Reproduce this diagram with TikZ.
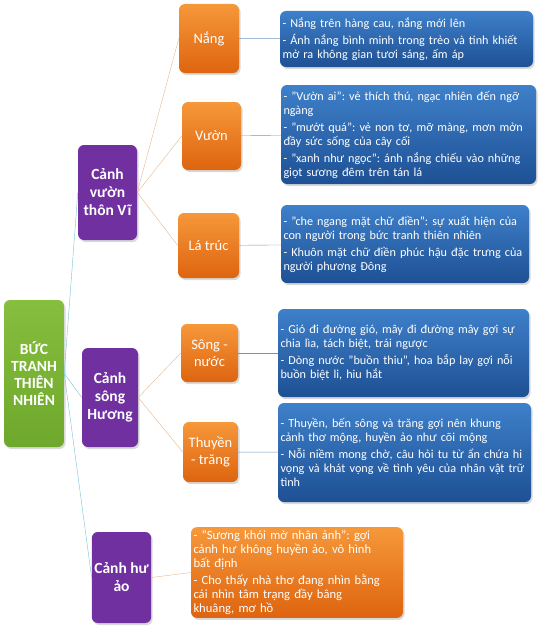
\documentclass[tikz,border=0pt]{standalone}
\usepackage{fontspec}
\setmainfont{Carlito}
\usetikzlibrary{shadows}
\frenchspacing

\definecolor{rootgreen}{RGB}{134,190,62}
\definecolor{rootgreendk}{RGB}{110,168,44}
\definecolor{sceneviolet}{RGB}{112,48,160}
\definecolor{partorange}{RGB}{246,152,58}
\definecolor{partorangedk}{RGB}{222,100,16}
\definecolor{noteblue}{RGB}{62,128,202}
\definecolor{noteblueDk}{RGB}{30,80,148}
\definecolor{linkcyan}{RGB}{120,192,216}
\definecolor{linktan}{RGB}{228,184,144}
\definecolor{linksteel}{RGB}{112,150,192}

\tikzset{
  box/.style={rounded corners=6pt, text=white, inner xsep=2.5pt,
    drop shadow={opacity=0.3, shadow xshift=1.5pt, shadow yshift=-2pt}},
  rootbox/.style={box, top color=rootgreen, bottom color=rootgreendk,
    font=\bfseries\fontsize{15.5}{17}\selectfont, align=center},
  scenebox/.style={box, fill=sceneviolet,
    font=\bfseries\fontsize{15.5}{18}\selectfont, align=center},
  partbox/.style={box, top color=partorange, bottom color=partorangedk,
    font=\fontsize{14.5}{17}\selectfont, align=center},
  notebox/.style={box, top color=noteblue, bottom color=noteblueDk,
    font=\fontsize{12.2}{14}\selectfont, align=left},
  warmnote/.style={box, top color=partorange, bottom color=partorangedk,
    font=\fontsize{12.6}{14}\selectfont, align=left}
}

\begin{document}
\begin{tikzpicture}[x=1pt,y=-1pt]
  \useasboundingbox (0,0) rectangle (541,634);

  % root and scenes
  \node[rootbox, minimum width=60pt, minimum height=147pt] (root) at (34,373.5) {BỨC\\TRANH\\THIÊN\\NHIÊN};
  \node[scenebox, minimum width=59pt, minimum height=95pt] (vi) at (107.5,192.5) {Cảnh\\vườn\\thôn Vĩ};
  \node[scenebox, minimum width=56pt, minimum height=99pt] (huong) at (110,397.5) {Cảnh\\sông\\Hương};
  \node[scenebox, minimum width=55pt, minimum height=91pt] (huao) at (121.5,577.5) {Cảnh hư\\ảo};

  % parts
  \node[partbox, minimum width=60pt, minimum height=69pt] (nang) at (209,38.5) {Nắng};
  \node[partbox, minimum width=59pt, minimum height=68pt] (vuon) at (211.5,136) {Vườn};
  \node[partbox, minimum width=61pt, minimum height=65pt] (truc) at (208.5,245.5) {Lá trúc};
  \node[partbox, minimum width=57pt, minimum height=58pt] (song) at (209.5,353) {Sông -\\nước};
  \node[partbox, minimum width=55pt, minimum height=60pt] (thuyen) at (210.5,452) {Thuyền\\- trăng};

  % notes
  \node[notebox, text width=248pt, minimum height=56pt] (nangtxt) at (406.5,39) {- Nắng trên hàng cau, nắng mới lên\\[3pt]- Ánh nắng bình minh trong trẻo và tinh khiết\\mở ra không gian tươi sáng, ấm áp};
  \node[notebox, text width=250pt, minimum height=99pt] (vuontxt) at (408.5,134.5) {- "Vườn ai": vẻ thích thú, ngạc nhiên đến ngỡ\\ngàng\\[3pt]- "mướt quá": vẻ non tơ, mỡ màng, mơn mởn\\đầy sức sống của cây cối\\[3pt]- "xanh như ngọc": ánh nắng chiếu vào những\\giọt sương đêm trên tán lá};
  \node[notebox, text width=243pt, minimum height=78pt] (tructxt) at (405,244) {- "che ngang mặt chữ điền": sự xuất hiện của\\con người trong bức tranh thiên nhiên\\[3pt]- Khuôn mặt chữ điền phúc hậu đặc trưng của\\người phương Đông};
  \node[notebox, text width=246pt, minimum height=88pt] (songtxt) at (403.5,353) {- Gió đi đường gió, mây đi đường mây gợi sự\\chia lìa, tách biệt, trái ngược\\[3pt]- Dòng nước "buồn thiu", hoa bắp lay gợi nỗi\\buồn biệt li, hiu hắt};
  \node[notebox, text width=248pt, minimum height=99pt] (thuyentxt) at (404.5,452.5) {- Thuyền, bến sông và trăng gợi nên khung\\cảnh thơ mộng, huyền ảo như cõi mộng\\[3pt]- Nỗi niềm mong chờ, câu hỏi tu từ ẩn chứa hi\\vọng và khát vọng về tình yêu của nhân vật trữ\\tình};
  \node[warmnote, text width=207pt, minimum height=89pt] (huaotxt) at (297,572.5) {- "Sương khói mờ nhân ảnh": gợi\\cảnh hư không huyền ảo, vô hình\\bất định\\[3pt]- Cho thấy nhà thơ đang nhìn bằng\\cái nhìn tâm trạng đầy bâng\\khuâng, mơ hồ};

  % links
  \draw[linkcyan, thin] (root.east) -- (vi.west);
  \draw[linkcyan, thin] (root.east) -- (huong.west);
  \draw[linkcyan, thin] (root.east) -- (huao.west);
  \draw[linktan, thin] (vi.east) -- (nang.west);
  \draw[linktan, thin] (vi.east) -- (vuon.west);
  \draw[linktan, thin] (vi.east) -- (truc.west);
  \draw[linktan, thin] (huong.east) -- (song.west);
  \draw[linktan, thin] (huong.east) -- (thuyen.west);
  \draw[linktan, thin] (huao.east) -- (huaotxt.west);
  \draw[linksteel, thin] (nang) -- (nangtxt);
  \draw[linksteel, thin] (vuon) -- (vuontxt);
  \draw[linksteel, thin] (truc) -- (tructxt);
  \draw[linksteel, thin] (song) -- (songtxt);
  \draw[linksteel, thin] (thuyen) -- (thuyentxt);
\end{tikzpicture}
\end{document}
